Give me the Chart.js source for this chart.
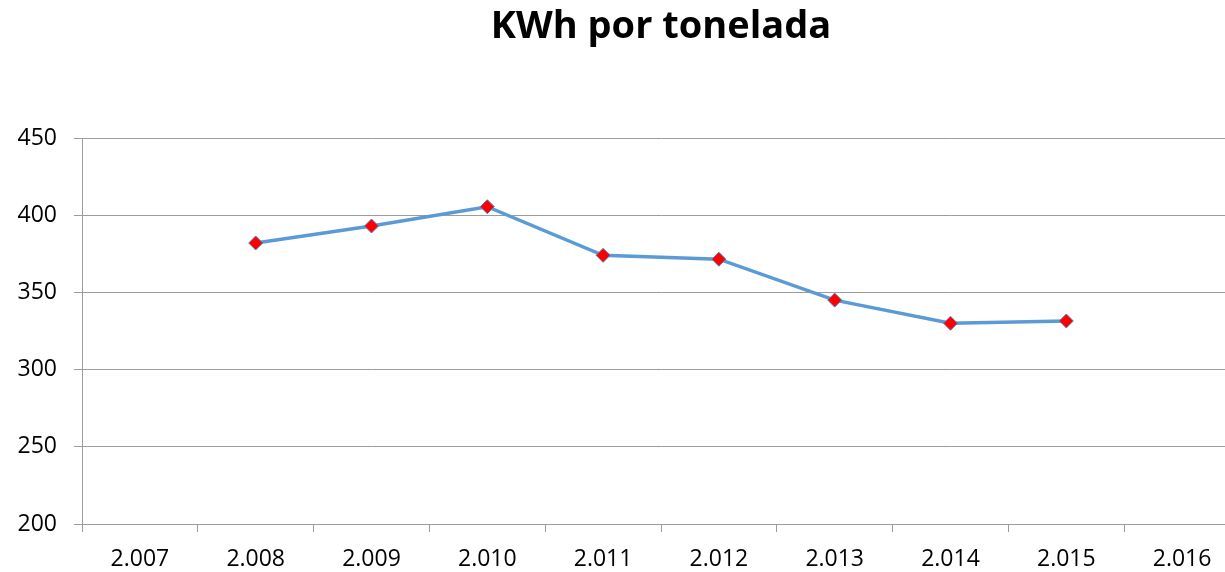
<!DOCTYPE html>
<html>
<head>
<meta charset="utf-8">
<script src="https://cdn.jsdelivr.net/npm/chart.js@4/dist/chart.umd.min.js"></script>
<style>
  html, body { margin: 0; padding: 0; background: #fff; overflow: hidden; }
  #wrap { width: 1225px; height: 572px; overflow: hidden; }
</style>
</head>
<body>
<div id="wrap"><canvas id="view-canvas" width="1248" height="572"></canvas></div>
<script>
// data
var years = ['2.007', '2.008', '2.009', '2.010', '2.011', '2.012', '2.013', '2.014', '2.015', '2.016'];
var kwhPorTonelada = [null, 382, 393, 405.5, 374, 371.5, 345, 330, 331.5, null];
var yMin = 200;
var yMax = 450;
var yStep = 50;

var canvas = document.getElementById('view-canvas');
var gridGray = '#9c9c9c';
var tickFont = { family: 'Open Sans', size: 23 };

// center the title over the plot area, not the whole canvas
var titleOverPlot = {
    id: 'titleOverPlot',
    afterLayout: function (chart) {
        if (chart.titleBlock) {
            chart.titleBlock.left = chart.chartArea.left;
            chart.titleBlock.right = chart.chartArea.right;
        }
    }
};

var myChart = new Chart(canvas, {
    type: 'line',
    data: {
        labels: years,
        datasets: [{
            data: kwhPorTonelada,
            borderColor: '#5b9bd5',
            borderWidth: 3.5,
            pointStyle: 'rectRot',
            pointRadius: 7,
            pointBackgroundColor: '#ff0000',
            pointBorderColor: '#4f81bd',
            pointBorderWidth: 1,
            tension: 0,
            spanGaps: false
        }]
    },
    options: {
        responsive: false,
        animation: false,
        layout: { padding: 0 },
        plugins: {
            legend: { display: false },
            tooltip: { enabled: false },
            title: {
                display: true,
                text: 'KWh por tonelada',
                color: '#000',
                font: { family: 'Open Sans', size: 38, weight: 'bold' },
                padding: { top: 4, bottom: 88.4 }
            }
        },
        scales: {
            x: {
                offset: true,
                grid: {
                    display: true,
                    offset: true,
                    drawOnChartArea: false,
                    drawTicks: true,
                    tickLength: 8,
                    color: gridGray
                },
                border: { display: true, color: gridGray },
                ticks: { color: '#000', font: tickFont, padding: 14, maxRotation: 0 },
                afterFit: function (s) { s.height = 48; }
            },
            y: {
                min: yMin,
                max: yMax,
                grid: { color: gridGray, tickLength: 8 },
                border: { display: true, color: gridGray },
                ticks: { stepSize: yStep, color: '#000', font: tickFont, padding: 17 },
                afterFit: function (s) { s.width = 82; }
            }
        }
    },
    plugins: [titleOverPlot]
});
</script>
</body>
</html>
